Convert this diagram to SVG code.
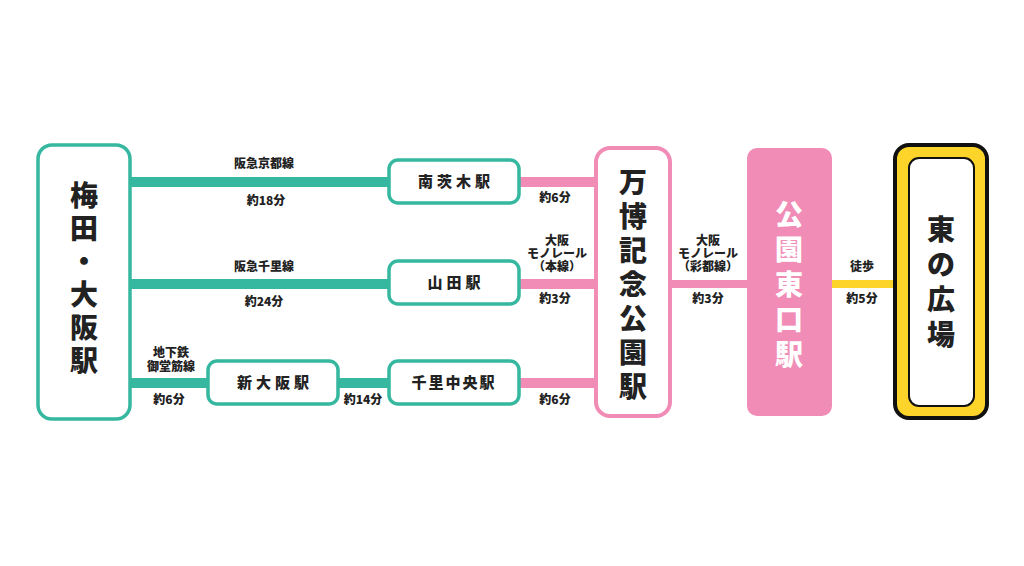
<svg xmlns="http://www.w3.org/2000/svg" width="1024" height="566" viewBox="0 0 1024 566">
<style>
text{font-family:"Noto Sans CJK JP","Noto Sans",sans-serif;font-weight:900;fill:#222;text-anchor:middle}
.s{font-size:12px}
.st{font-size:15px;letter-spacing:4px}
.big{font-size:28px}
.tbox{fill:#fff;stroke:#35b89f;stroke-width:3.5}
.pbox{fill:#fff;stroke:#f08cb6;stroke-width:4}
</style>
<rect width="1024" height="566" fill="#fff"/>
<g id="connectors">
<g stroke="#35b89f" stroke-width="10">
<line x1="130" y1="182" x2="389" y2="182"/>
<line x1="130" y1="284" x2="389" y2="284"/>
<line x1="130" y1="383" x2="208" y2="383"/>
<line x1="338" y1="383" x2="389" y2="383"/>
</g>
<g stroke="#f08cb6" stroke-width="10">
<line x1="519" y1="182" x2="596" y2="182"/>
<line x1="519" y1="284" x2="596" y2="284"/>
<line x1="519" y1="383" x2="596" y2="383"/>
<line x1="670" y1="284" x2="747" y2="284" stroke-width="8"/>
</g>
<line x1="832" y1="284" x2="895" y2="284" stroke="#fdd52a" stroke-width="8"/>
<text class="s" x="264" y="168">阪急京都線</text>
<text class="s" x="266" y="205">約18分</text>
<text class="s" x="264" y="271">阪急千里線</text>
<text class="s" x="264" y="306">約24分</text>
<text class="s" x="171" y="357">地下鉄</text>
<text class="s" x="171" y="371">御堂筋線</text>
<text class="s" x="169" y="404">約6分</text>
<text class="s" x="363" y="404">約14分</text>
<text class="s" x="555" y="202">約6分</text>
<text class="s" x="557" y="245">大阪</text>
<text class="s" x="557" y="258">モノレール</text>
<text class="s" x="557" y="271">（本線）</text>
<text class="s" x="555" y="303">約3分</text>
<text class="s" x="555" y="404">約6分</text>
<text class="s" x="708" y="245">大阪</text>
<text class="s" x="708" y="258">モノレール</text>
<text class="s" x="708" y="271">（彩都線）</text>
<text class="s" x="708" y="303">約3分</text>
<text class="s" x="862" y="271">徒歩</text>
<text class="s" x="862" y="303">約5分</text>
</g>
<g id="umeda"><rect class="tbox" x="38" y="145" width="92" height="274" rx="14"/>
<text class="big" x="84" y="206">梅</text><text class="big" x="84" y="239">田</text><text class="big" x="84" y="272">・</text><text class="big" x="84" y="305">大</text><text class="big" x="84" y="338">阪</text><text class="big" x="84" y="371">駅</text></g>
<g id="minamiibaraki"><rect class="tbox" x="389" y="160" width="130" height="43" rx="9"/><text class="st" x="456" y="187">南茨木駅</text></g>
<g id="yamada"><rect class="tbox" x="389" y="261" width="130" height="43" rx="9"/><text class="st" x="456" y="288">山田駅</text></g>
<g id="shinosaka"><rect class="tbox" x="208" y="361" width="130" height="43" rx="9"/><text class="st" x="275" y="388">新大阪駅</text></g>
<g id="senrichuo"><rect class="tbox" x="389" y="361" width="130" height="43" rx="9"/><text class="st" x="454" y="388" style="letter-spacing:2px">千里中央駅</text></g>
<g id="banpaku"><rect class="pbox" x="596" y="148" width="74" height="268" rx="14"/>
<text class="big" x="633" y="193">万</text><text class="big" x="633" y="227">博</text><text class="big" x="633" y="261">記</text><text class="big" x="633" y="295">念</text><text class="big" x="633" y="329">公</text><text class="big" x="633" y="363">園</text><text class="big" x="633" y="397">駅</text></g>
<g id="koenhigashi"><rect x="747" y="148" width="85" height="268" rx="10" fill="#f08cb6"/>
<text class="big" x="789" y="225" style="fill:#fff">公</text><text class="big" x="789" y="260" style="fill:#fff">園</text><text class="big" x="789" y="295" style="fill:#fff">東</text><text class="big" x="789" y="330" style="fill:#fff">口</text><text class="big" x="789" y="365" style="fill:#fff">駅</text></g>
<g id="higashinohiroba"><rect x="895" y="145" width="92" height="273" rx="14" fill="#fdd52a" stroke="#111" stroke-width="4"/>
<rect x="909" y="158" width="65" height="248" rx="10" fill="#fff" stroke="#111" stroke-width="2"/>
<text class="big" x="941" y="240">東</text><text class="big" x="941" y="275">の</text><text class="big" x="941" y="310">広</text><text class="big" x="941" y="345">場</text></g>
</svg>
